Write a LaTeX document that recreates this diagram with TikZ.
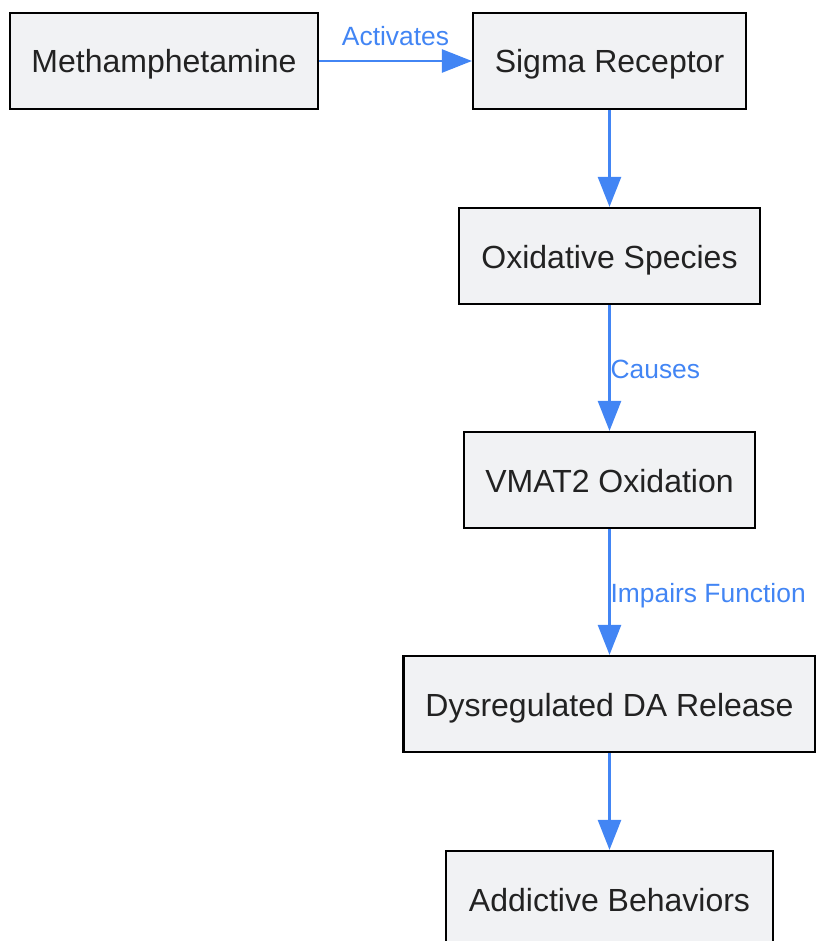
\documentclass[tikz,border=0pt]{standalone}
\usepackage{fontspec}
\setmainfont{Liberation Sans}
\usetikzlibrary{arrows.meta}
\definecolor{boxfill}{HTML}{F1F2F4}
\definecolor{linkblue}{HTML}{4285F4}
\definecolor{boxtext}{HTML}{222222}
\begin{document}
\begin{tikzpicture}[x=1pt, y=-1pt,
	every node/.style={draw, line width=2.2pt, fill=boxfill, text=boxtext, minimum height=96pt, inner sep=0pt, text height=24pt, text depth=0pt, font=\fontsize{32}{38}\selectfont},
	link/.style={draw=linkblue, line width=2.6pt, -{Triangle[length=30pt, width=23pt]}},
	tag/.style={draw=none, fill=none, minimum height=0pt, inner sep=0pt, text height=20pt, text depth=0pt, text=linkblue, font=\fontsize{26.4}{30}\selectfont}]

	\useasboundingbox (0,0) rectangle (815,941);

	\node[minimum width=308pt] (meth) at(164,61) {Methamphetamine};
	\node[minimum width=273pt] (sigma) at(609.5,61) {Sigma Receptor};
	\node[minimum width=301pt] (oxid) at(609.5,256) {Oxidative Species};
	\node[minimum width=291pt] (vmat) at(609.5,480) {VMAT2 Oxidation};
	\node[minimum width=412pt] (dysreg) at(609.5,704) {Dysregulated DA Release};
	\node[minimum width=327pt] (addict) at(609.5,899) {Addictive Behaviors};

\draw[link] (meth) -- node[tag, above=14pt] (activates) {Activates} (sigma);
\draw[link] (sigma) -- (oxid);
\draw[link] (oxid) -- node[tag, anchor=west] (causes) {Causes} (vmat);
\draw[link] (vmat) -- node[tag, anchor=west] (impairs) {Impairs Function} (dysreg);
\draw[link] (dysreg) -- (addict);
\end{tikzpicture}
\end{document}
